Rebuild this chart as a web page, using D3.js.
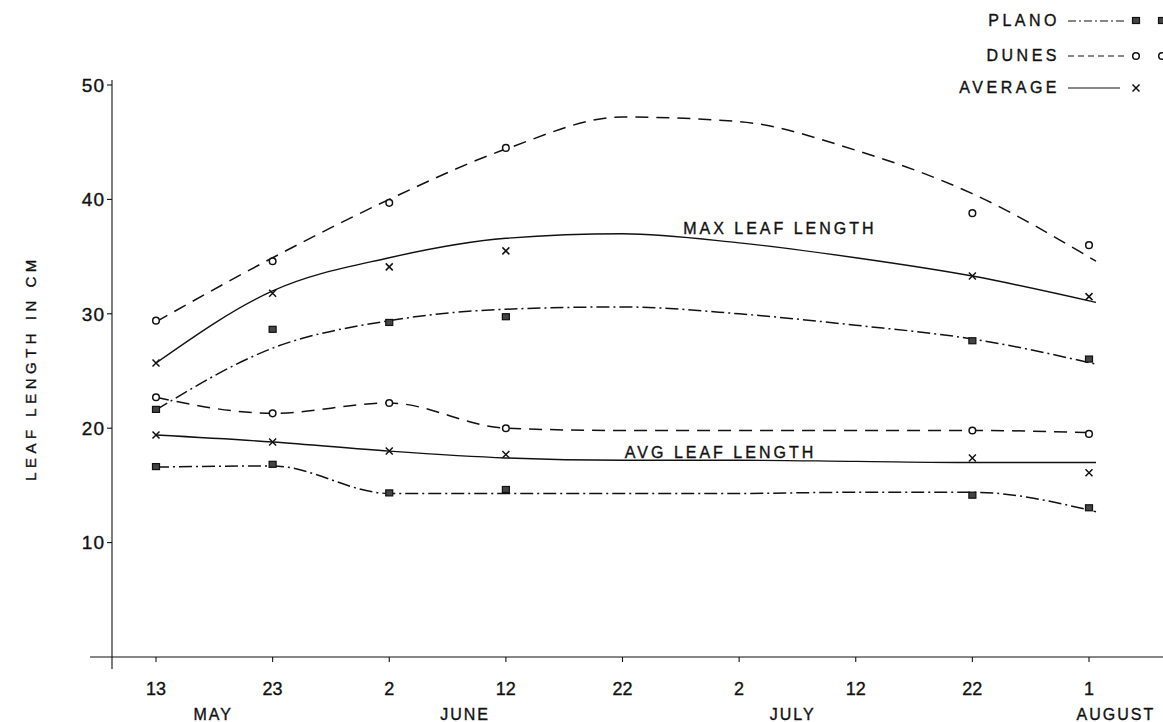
<!DOCTYPE html>
<html>
<head>
<meta charset="utf-8">
<script src="https://cdn.jsdelivr.net/npm/d3@7/dist/d3.min.js"></script>
<style>
  html, body { margin: 0; padding: 0; background: #fff; }
  svg { display: block; }
  text { font-family: "Liberation Sans", Arial, sans-serif; fill: #111; stroke: #111; stroke-width: 0.35px; }
</style>
</head>
<body>
<div id="chart"></div>
<script>
// Days are counted from 13 May.
const tickDays   = [0, 10, 20, 30, 40, 50, 60, 70, 80];
const tickLabels = ["13", "23", "2", "12", "22", "2", "12", "22", "1"];
const months     = ["MAY", "JUNE", "JULY", "AUGUST"];
const monthDays  = [4.9, 26.5, 54.6, 82.3];
const yTicks     = [10, 20, 30, 40, 50];

// Sampling dates of the field measurements
const sampleDays = [0, 10, 20, 30, 70, 80];

// Measured leaf lengths (cm)
const planoMax   = [21.6, 28.6, 29.2, 29.7, 27.6, 26.0];
const dunesMax   = [29.4, 34.6, 39.7, 44.5, 38.8, 36.0];
const averageMax = [25.7, 31.8, 34.1, 35.5, 33.3, 31.5];
const planoAvg   = [16.6, 16.8, 14.3, 14.6, 14.1, 13.0];
const dunesAvg   = [22.7, 21.3, 22.2, 20.0, 19.8, 19.5];
const averageAvg = [19.4, 18.8, 18.0, 17.7, 17.4, 16.1];

// Smoothed trend curves, evaluated at the tick dates
const curveDays       = [0, 10, 20, 30, 40, 50, 60, 70, 80.6];
const planoMaxCurve   = [21.6, 27.0, 29.4, 30.4, 30.6, 30.0, 29.0, 27.8, 25.6];
const dunesMaxCurve   = [29.3, 34.9, 40.0, 44.4, 47.2, 46.8, 44.3, 40.5, 34.6];
const averageMaxCurve = [25.7, 32.0, 34.9, 36.6, 37.0, 36.2, 34.9, 33.3, 31.0];
const planoAvgCurve   = [16.6, 16.7, 14.3, 14.3, 14.3, 14.3, 14.4, 14.4, 12.7];
const dunesAvgCurve   = [22.7, 21.3, 22.2, 20.0, 19.8, 19.8, 19.8, 19.8, 19.6];
const averageAvgCurve = [19.4, 18.8, 18.0, 17.4, 17.2, 17.2, 17.1, 17.0, 17.0];

const W = 1163, H = 722;
const svg = d3.select("#chart").append("svg")
  .attr("width", W).attr("height", H);

const x = d3.scaleLinear().domain([0, 80]).range([156, 1089]);
const y = d3.scaleLinear().domain([0, 50]).range([657, 85]);

const ink = "#111";
const styles = {
  plano:   { dash: "13,4,2,4", width: 1.5 },
  dunes:   { dash: "13,8",     width: 1.5 },
  average: { dash: null,       width: 1.4 }
};

// Axes
const axisX0 = 90, axisY0 = 112;
svg.append("line")
  .attr("x1", axisX0).attr("x2", W).attr("y1", y(0)).attr("y2", y(0))
  .attr("stroke", ink).attr("stroke-width", 1.1);
svg.append("line")
  .attr("x1", axisY0).attr("x2", axisY0).attr("y1", y(50) - 5).attr("y2", y(0) + 12)
  .attr("stroke", ink).attr("stroke-width", 1.1);

const yAxis = svg.append("g");
yTicks.forEach(v => {
  yAxis.append("line")
    .attr("x1", axisY0 - 5).attr("x2", axisY0).attr("y1", y(v)).attr("y2", y(v))
    .attr("stroke", ink).attr("stroke-width", 1.1);
  yAxis.append("text")
    .attr("x", axisY0 - 7).attr("y", y(v)).attr("dy", "0.36em")
    .attr("text-anchor", "end").attr("font-size", 19).attr("letter-spacing", 1)
    .text(v);
});

const xAxis = svg.append("g");
tickDays.forEach((d, i) => {
  xAxis.append("line")
    .attr("x1", x(d)).attr("x2", x(d)).attr("y1", y(0)).attr("y2", y(0) + 5)
    .attr("stroke", ink).attr("stroke-width", 1.1);
  xAxis.append("text")
    .attr("x", x(d)).attr("y", 695)
    .attr("text-anchor", "middle").attr("font-size", 18)
    .text(tickLabels[i]);
});
months.forEach((m, i) => {
  xAxis.append("text")
    .attr("x", x(monthDays[i])).attr("y", 720)
    .attr("text-anchor", "middle").attr("font-size", 16)
    .attr("letter-spacing", 2)
    .text(m);
});

svg.append("text")
  .attr("transform", "translate(36,368) rotate(-90)")
  .attr("text-anchor", "middle").attr("font-size", 15)
  .attr("letter-spacing", 4.5)
  .text("LEAF  LENGTH  IN  CM");

// Trend curves
const line = d3.line()
  .x(d => x(d[0])).y(d => y(d[1]))
  .curve(d3.curveMonotoneX);

const curves = [
  [planoMaxCurve, "plano"], [dunesMaxCurve, "dunes"], [averageMaxCurve, "average"],
  [planoAvgCurve, "plano"], [dunesAvgCurve, "dunes"], [averageAvgCurve, "average"]
];
curves.forEach(([vals, s]) => {
  svg.append("path")
    .datum(curveDays.map((d, i) => [d, vals[i]]))
    .attr("d", line)
    .attr("fill", "none").attr("stroke", ink)
    .attr("stroke-width", styles[s].width)
    .attr("stroke-dasharray", styles[s].dash);
});

// Point markers
function marker(g, kind, cx, cy) {
  if (kind === "plano") {
    g.append("rect")
      .attr("x", cx - 3.5).attr("y", cy - 3.5).attr("width", 7).attr("height", 6)
      .attr("fill", "#444").attr("stroke", ink).attr("stroke-width", 1.2);
  } else if (kind === "dunes") {
    g.append("circle")
      .attr("cx", cx).attr("cy", cy).attr("r", 3.3)
      .attr("fill", "#fff").attr("stroke", ink).attr("stroke-width", 1.5);
  } else {
    g.append("path")
      .attr("d", `M${cx - 3.5},${cy - 3.5}L${cx + 3.5},${cy + 3.5}M${cx - 3.5},${cy + 3.5}L${cx + 3.5},${cy - 3.5}`)
      .attr("stroke", ink).attr("stroke-width", 1.5);
  }
}

const points = svg.append("g");
[
  [planoMax, "plano"], [dunesMax, "dunes"], [averageMax, "average"],
  [planoAvg, "plano"], [dunesAvg, "dunes"], [averageAvg, "average"]
].forEach(([vals, kind]) => {
  vals.forEach((v, i) => marker(points, kind, x(sampleDays[i]), y(v)));
});

// Curve annotations
svg.append("text")
  .attr("x", x(45.2)).attr("y", y(37.0))
  .attr("font-size", 16).attr("letter-spacing", 3)
  .text("MAX LEAF LENGTH");
svg.append("text")
  .attr("x", x(40.2)).attr("y", y(17.4))
  .attr("font-size", 16).attr("letter-spacing", 3)
  .text("AVG LEAF LENGTH");

// Legend
const legendItems = [
  { label: "PLANO",   kind: "plano",   yPos: 20, twin: true },
  { label: "DUNES",   kind: "dunes",   yPos: 55, twin: true },
  { label: "AVERAGE", kind: "average", yPos: 87, twin: false }
];
const legend = svg.append("g");
legendItems.forEach(it => {
  legend.append("text")
    .attr("x", 1060).attr("y", it.yPos).attr("dy", "0.36em")
    .attr("text-anchor", "end").attr("font-size", 16).attr("letter-spacing", 3.5)
    .text(it.label);
  legend.append("line")
    .attr("x1", 1068).attr("x2", it.kind === "average" ? 1120 : 1125)
    .attr("y1", it.yPos + 1).attr("y2", it.yPos + 1)
    .attr("stroke", ink).attr("stroke-width", 1.2)
    .attr("stroke-dasharray", it.kind === "plano" ? "8,3,2,3" : it.kind === "dunes" ? "6,4" : null);
  marker(legend, it.kind, 1136, it.yPos + 1);
  if (it.twin) marker(legend, it.kind, 1162, it.yPos + 1);
});
</script>
</body>
</html>
